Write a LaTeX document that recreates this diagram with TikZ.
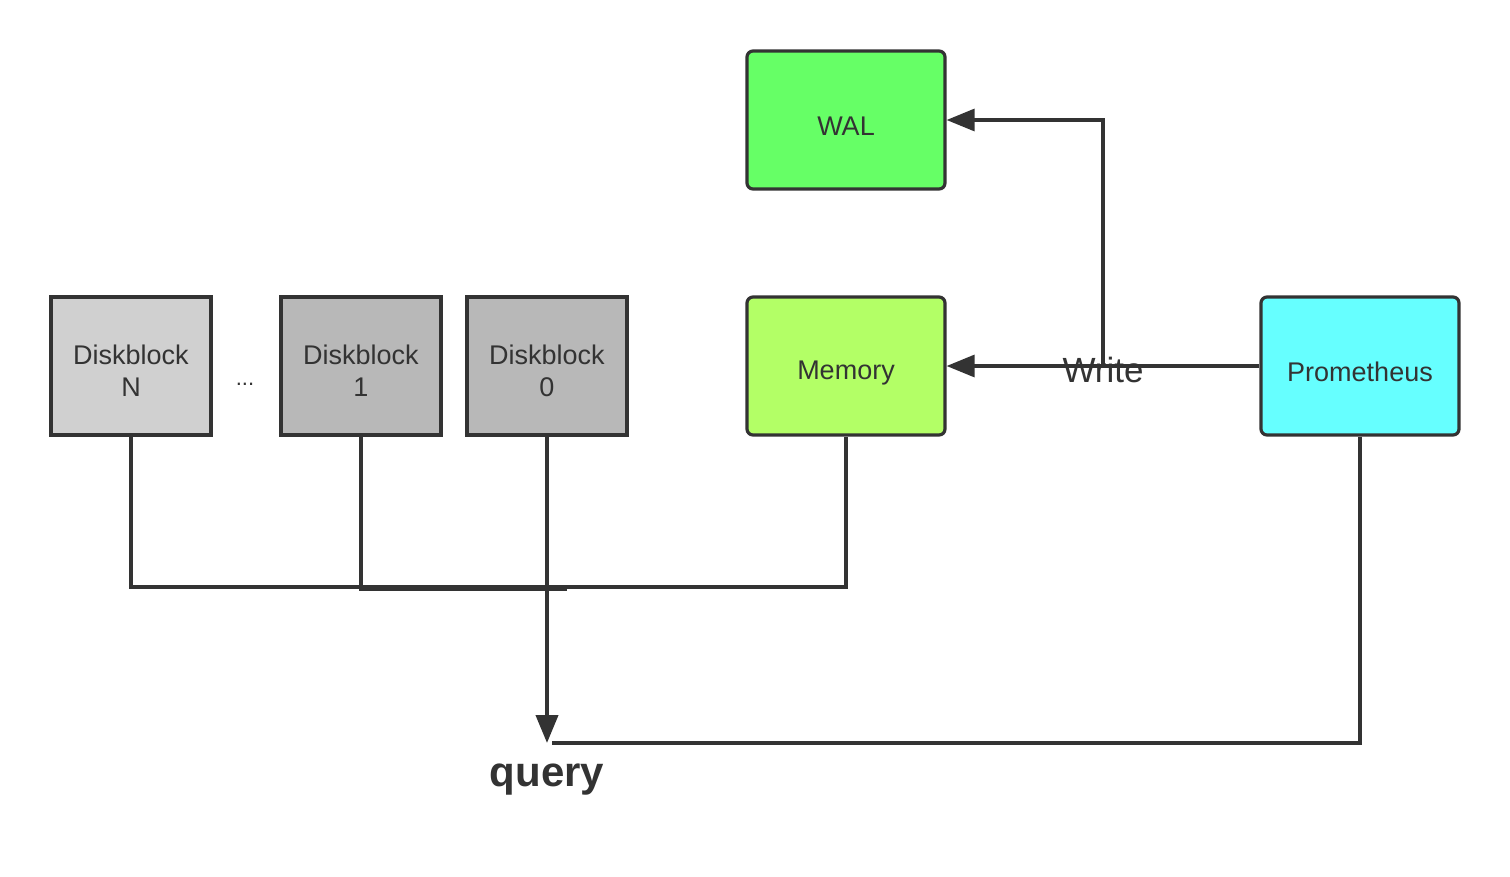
\documentclass[tikz,border=0pt]{standalone}
\usepackage{fontspec}
\setmainfont{Liberation Sans}
\usetikzlibrary{arrows.meta}
\definecolor{ink}{HTML}{333333}
\definecolor{gN}{HTML}{D0D0D0}
\definecolor{gB}{HTML}{B8B8B8}
\definecolor{walc}{HTML}{66FF66}
\definecolor{memc}{HTML}{B3FF66}
\definecolor{proc}{HTML}{66FFFF}
\tikzset{
  blk/.style={draw=ink, line width=3.2pt, minimum width=160pt, minimum height=138pt, inner sep=0pt},
  rblk/.style={blk, rounded corners=6pt, minimum width=198pt},
  lbl/.style={text=ink, align=center, inner sep=0pt, font=\fontsize{27}{32}\selectfont},
  conn/.style={draw=ink, line width=3.2pt},
  arr/.style={conn, -{Triangle[length=28pt, width=22pt]}},
}
\begin{document}
\begin{tikzpicture}[x=1pt,y=-1pt]
\useasboundingbox[fill=white] (0,0) rectangle (1510,876);
\node[blk, fill=gN] (dn) at (131,366) {};
\node[blk, fill=gB] (d1) at (361,366) {};
\node[blk, fill=gB] (d0) at (547,366) {};
\node[rblk, fill=memc] (mem) at (846,366) {};
\node[rblk, fill=walc] (wal) at (846,120) {};
\node[rblk, fill=proc] (pro) at (1360,366) {};
\node[lbl] (dnt) at ([yshift=-5pt]dn.center) {Diskblock\\N};
\node[lbl] (d1t) at ([yshift=-5pt]d1.center) {Diskblock\\1};
\node[lbl] (d0t) at ([yshift=-5pt]d0.center) {Diskblock\\0};
\node[lbl] (memt) at ([yshift=-7pt]mem.center) {Memory};
\node[lbl] (walt) at ([yshift=-6pt]wal.center) {WAL};
\node[lbl] (prot) at ([yshift=-6pt]pro.center) {Prometheus};
\node[lbl, font=\fontsize{22}{26}\selectfont] (dots) at (245,384) {...};
\coordinate (q) at (547,743);
\node[text=ink, font=\fontsize{42}{48}\selectfont\bfseries] (query) at (547,780) {query};
\coordinate (br) at (1103,366);
\coordinate (jn) at (131,587);
\coordinate (jm) at (846,587);
\coordinate (j1) at (361,589);
\coordinate (j1e) at (567,589);
% write
\draw[arr] (pro.west) -- (mem.east);
\draw[arr] (br) |- (wal.east);
\node[text=ink, font=\fontsize{35}{40}\selectfont] (write) at (1103,370) {Write};
% disk to query
\draw[conn] (dn.south) -- (jn) -- (jm) -- (mem.south);
\draw[conn] (d1.south) -- (j1) -- (j1e);
\draw[arr, line width=4pt] (d0.south) -- (q);
\draw[conn] (pro.south) |- ([xshift=5pt]q);
\end{tikzpicture}
\end{document}
